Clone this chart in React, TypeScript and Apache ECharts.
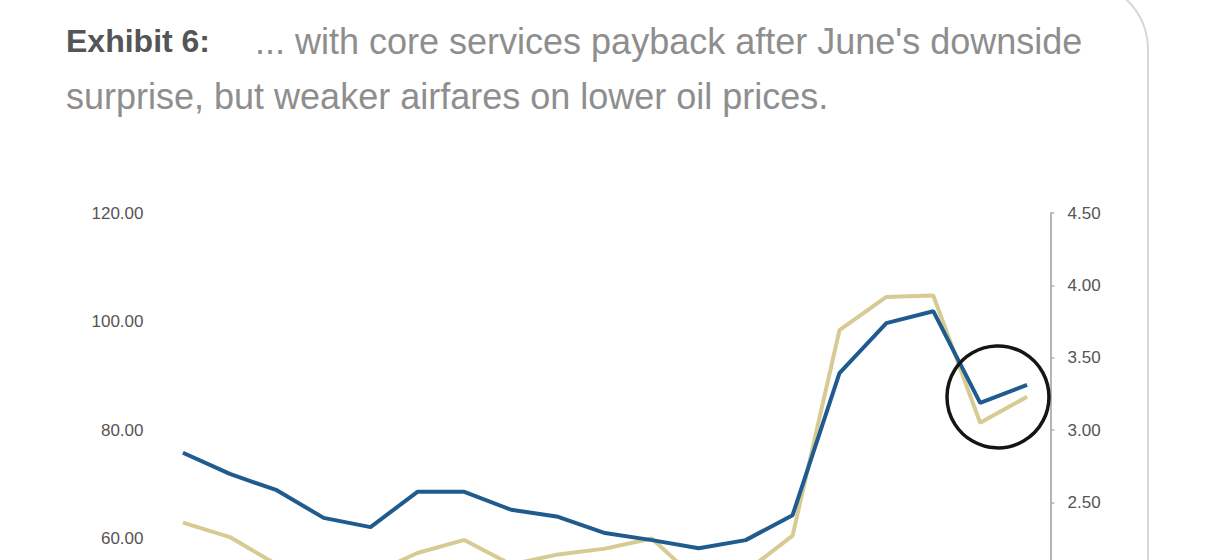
import React, { useEffect, useRef } from "react";
import * as echarts from "echarts";

const months = [
  "Jan-21", "Feb-21", "Mar-21", "Apr-21", "May-21", "Jun-21", "Jul-21", "Aug-21", "Sep-21",
  "Oct-21", "Nov-21", "Dec-21", "Jan-22", "Feb-22", "Mar-22", "Apr-22", "May-22", "Jun-22", "Jul-22",
];
const blueSeries = [75.8, 71.9, 68.9, 63.8, 62.1, 68.6, 68.6, 65.3, 64.0, 61.0, 59.7, 58.2, 59.7, 64.3, 90.5, 99.7, 101.9, 85.0, 88.3];
const goldSeries = [2.36, 2.26, 2.07, 1.96, 2.0, 2.15, 2.24, 2.07, 2.14, 2.18, 2.25, 1.95, 2.02, 2.27, 3.69, 3.92, 3.93, 3.05, 3.23];
const leftTicks = { min: 0, max: 120, interval: 20 };
const rightTicks = { min: 0, max: 4.5, interval: 0.5 };
const titleLead = "Exhibit 6:";
const titleLine1 = "... with core services payback after June's downside";
const titleLine2 = "surprise, but weaker airfares on lower oil prices.";

export default function App() {
  const ref = useRef<HTMLDivElement>(null);
  useEffect(() => {
    if (!ref.current) return;
    const chart = echarts.init(ref.current, null, { renderer: "svg" });
    const font = "Liberation Sans, Arial, sans-serif";
    const baseGraphic: any[] = [
      {
        type: "rect",
        shape: { x: -60, y: -20, width: 1208, height: 1100, r: 70 },
        style: { fill: "none", stroke: "#d6d6d6", lineWidth: 2 },
        silent: true,
      },
      {
        type: "text",
        x: 66,
        y: 41,
        style: { text: titleLead, fill: "#555555", font: `bold 32px ${font}`, verticalAlign: "middle", align: "left" },
      },
      {
        type: "text",
        x: 255,
        y: 41,
        style: { text: titleLine1, fill: "#8e8e8e", font: `36px ${font}`, verticalAlign: "middle", align: "left" },
      },
      {
        type: "text",
        x: 66,
        y: 96,
        style: { text: titleLine2, fill: "#8e8e8e", font: `36px ${font}`, verticalAlign: "middle", align: "left" },
      },
    ];
    const option: any = {
      animation: false,
      backgroundColor: "#ffffff",
      grid: { left: 159.5, right: 1208 - 1050.5, top: 213, bottom: 940 - 864 },
      xAxis: {
        type: "category",
        data: months,
        boundaryGap: true,
        axisLine: { show: false },
        axisTick: { show: false },
        axisLabel: { color: "#555", fontSize: 14, fontFamily: font },
        splitLine: { show: false },
      },
      yAxis: [
        {
          type: "value",
          min: leftTicks.min,
          max: leftTicks.max,
          interval: leftTicks.interval,
          position: "left",
          axisLine: { show: false },
          axisTick: { show: false },
          splitLine: { show: false },
          axisLabel: {
            margin: 16,
            color: "#555",
            fontSize: 17,
            fontFamily: font,
            formatter: (v: number) => v.toFixed(2),
          },
        },
        {
          type: "value",
          min: rightTicks.min,
          max: rightTicks.max,
          interval: rightTicks.interval,
          position: "right",
          axisLine: { show: true, lineStyle: { color: "#b5b5b5", width: 2 } },
          axisTick: { show: true, length: 4, lineStyle: { color: "#b5b5b5", width: 1.5 } },
          splitLine: { show: false },
          axisLabel: {
            margin: 17,
            color: "#555",
            fontSize: 17,
            fontFamily: font,
            formatter: (v: number) => v.toFixed(2),
          },
        },
      ],
      series: [
        {
          type: "line",
          name: "Gold",
          data: goldSeries,
          yAxisIndex: 1,
          symbol: "none",
          lineStyle: { color: "#d6cb93", width: 4 },
          z: 2,
        },
        {
          type: "line",
          name: "Blue",
          data: blueSeries,
          yAxisIndex: 0,
          symbol: "none",
          lineStyle: { color: "#1f5b8e", width: 4 },
          z: 3,
        },
      ],
      graphic: baseGraphic,
    };
    chart.setOption(option);
    const p17 = chart.convertToPixel({ xAxisIndex: 0, yAxisIndex: 0 }, [17, 86.1]) as number[];
    const p18 = chart.convertToPixel({ xAxisIndex: 0, yAxisIndex: 0 }, [18, 86.1]) as number[];
    if (p17 && p18) {
      const cx = p17[0] + 0.38 * (p18[0] - p17[0]);
      const cy = p17[1];
      chart.setOption({
        graphic: [
          ...baseGraphic,
          {
            type: "circle",
            shape: { cx, cy, r: 51 },
            style: { fill: "none", stroke: "#151515", lineWidth: 3.5 },
            z: 100,
          },
        ],
      });
    }
    return () => chart.dispose();
  }, []);
  return (
    <div
      ref={ref}
      style={{ position: "fixed", left: 0, top: 0, width: 1208, height: 940, background: "#fff" }}
    />
  );
}
